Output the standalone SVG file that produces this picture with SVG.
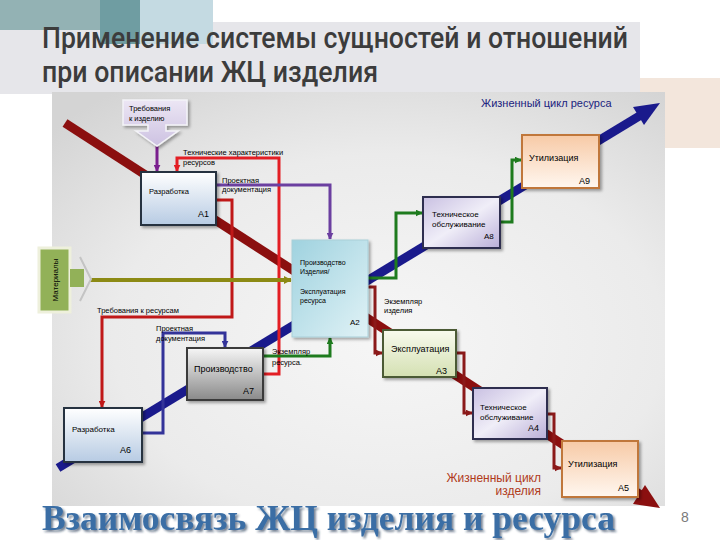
<svg xmlns="http://www.w3.org/2000/svg" width="720" height="540" viewBox="0 0 720 540">
<defs>
<style>
.t{font-family:"Liberation Sans",Arial,sans-serif;fill:#000}
.s7{font-size:7px}.s75{font-size:7.5px}.s8{font-size:8px}.s9{font-size:9px}
.box{stroke-width:2}
.c{fill:none;stroke-width:3}
.ttl{font-family:Roboto,"Liberation Sans",sans-serif;font-size:30px;font-weight:500;fill:#3c3c3c}
</style>
<radialGradient id="gPanel" cx="0.55" cy="0.6" r="0.75">
<stop offset="0" stop-color="#f6f6f6"/><stop offset="0.6" stop-color="#ebebeb"/><stop offset="1" stop-color="#d4d4d4"/>
</radialGradient>
<linearGradient id="gBlue" x1="0" y1="0" x2="0" y2="1"><stop offset="0" stop-color="#ffffff"/><stop offset="1" stop-color="#b7cbe3"/></linearGradient>
<linearGradient id="gCyan" x1="0" y1="0" x2="1" y2="1"><stop offset="0" stop-color="#9fd2df"/><stop offset="1" stop-color="#e0f2f6"/></linearGradient>
<linearGradient id="gLav" x1="0" y1="0" x2="1" y2="1"><stop offset="0" stop-color="#c9c0e2"/><stop offset="0.5" stop-color="#f0eef8"/><stop offset="1" stop-color="#b9aed8"/></linearGradient>
<linearGradient id="gPeach" x1="0" y1="0" x2="0" y2="1"><stop offset="0" stop-color="#f7caa6"/><stop offset="1" stop-color="#fff7f0"/></linearGradient>
<linearGradient id="gGreen" x1="0" y1="0" x2="0" y2="1"><stop offset="0" stop-color="#f8faee"/><stop offset="1" stop-color="#d4e0b2"/></linearGradient>
<linearGradient id="gGray" x1="0" y1="0" x2="0" y2="1"><stop offset="0" stop-color="#f6f6f6"/><stop offset="1" stop-color="#8a8a8a"/></linearGradient>
<linearGradient id="gCall" x1="0" y1="0" x2="0" y2="1"><stop offset="0" stop-color="#ece6f4"/><stop offset="1" stop-color="#cdc2e2"/></linearGradient>
<filter id="sh" x="-10%" y="-10%" width="130%" height="130%"><feDropShadow dx="2" dy="2" stdDeviation="1.5" flood-color="#000" flood-opacity="0.35"/></filter>
<filter id="tsh" x="-5%" y="-20%" width="110%" height="140%"><feDropShadow dx="2" dy="2" stdDeviation="0.8" flood-color="#1d3550" flood-opacity="0.6"/></filter>
<marker id="mPur" viewBox="0 0 10 10" refX="9" refY="5" markerWidth="7" markerHeight="7" markerUnits="userSpaceOnUse" orient="auto"><path d="M0,0L10,5L0,10z" fill="#7a1f8e"/></marker>
<marker id="mViol" viewBox="0 0 10 10" refX="9" refY="5" markerWidth="7" markerHeight="7" markerUnits="userSpaceOnUse" orient="auto"><path d="M0,0L10,5L0,10z" fill="#6b3fa0"/></marker>
<marker id="mRed" viewBox="0 0 10 10" refX="9" refY="5" markerWidth="7" markerHeight="7" markerUnits="userSpaceOnUse" orient="auto"><path d="M0,0L10,5L0,10z" fill="#e31e24"/></marker>
<marker id="mDRed" viewBox="0 0 10 10" refX="9" refY="5" markerWidth="7" markerHeight="7" markerUnits="userSpaceOnUse" orient="auto"><path d="M0,0L10,5L0,10z" fill="#c01818"/></marker>
<marker id="mMar" viewBox="0 0 10 10" refX="9" refY="5" markerWidth="7" markerHeight="7" markerUnits="userSpaceOnUse" orient="auto"><path d="M0,0L10,5L0,10z" fill="#8b1a1a"/></marker>
<marker id="mBlu" viewBox="0 0 10 10" refX="9" refY="5" markerWidth="7" markerHeight="7" markerUnits="userSpaceOnUse" orient="auto"><path d="M0,0L10,5L0,10z" fill="#333399"/></marker>
<marker id="mGrn" viewBox="0 0 10 10" refX="9" refY="5" markerWidth="7" markerHeight="7" markerUnits="userSpaceOnUse" orient="auto"><path d="M0,0L10,5L0,10z" fill="#1e7b1e"/></marker>
<marker id="mOli" viewBox="0 0 10 10" refX="9" refY="5" markerWidth="8" markerHeight="8" markerUnits="userSpaceOnUse" orient="auto"><path d="M0,0L10,5L0,10z" fill="#8c8a14"/></marker>
</defs>

<!-- background -->
<rect width="720" height="540" fill="#ffffff"/>
<g id="decor">
<rect x="0" y="22" width="640" height="72" fill="#e6e6ea"/>
<rect x="640" y="78" width="80" height="70" fill="#f3e6dc"/>
<rect x="0" y="0" width="100" height="30" fill="#93b2b4"/>
<rect x="100" y="0" width="40" height="44" fill="#6f9da2"/>
<rect x="140" y="0" width="73" height="44" fill="#c4dae2"/>
<rect x="52" y="92" width="613" height="414" fill="url(#gPanel)"/>
</g>

<g id="title">
<text class="ttl" x="42" y="48" textLength="586" lengthAdjust="spacingAndGlyphs">Применение системы сущностей и отношений</text>
<text class="ttl" x="42" y="82" textLength="336" lengthAdjust="spacingAndGlyphs">при описании ЖЦ изделия</text>
</g>

<!-- connectors -->
<g id="connectors">
<line x1="65" y1="123" x2="641" y2="495" stroke="#8b0f0f" stroke-width="9"/>
<polygon points="660,508 633,504 645,485" fill="#8b0f0f"/>
<line x1="58" y1="468" x2="641" y2="115" stroke="#1a1a8c" stroke-width="9"/>
<polygon points="660,103 644,125 633,107" fill="#1a1a8c"/>

<path class="c" d="M157,145V171" stroke="#7a1f8e" marker-end="url(#mPur)"/>
<path class="c" d="M263,374H279V158H177V171" stroke="#e31e24" marker-end="url(#mRed)"/>
<path class="c" d="M216,185H330V239" stroke="#6b3fa0" marker-end="url(#mViol)"/>
<path class="c" d="M216,200H232V317H102V407" stroke="#c01818" marker-end="url(#mDRed)"/>
<path d="M90,280H291" fill="none" stroke="#8c8a14" stroke-width="4" marker-end="url(#mOli)"/>
<path class="c" d="M142,433H163V333H225V347" stroke="#333399" marker-end="url(#mBlu)"/>
<path class="c" d="M263,356H330V338" stroke="#1e7b1e" marker-end="url(#mGrn)"/>
<path class="c" d="M368,278H396V213H422" stroke="#1e7b1e" marker-end="url(#mGrn)"/>
<path class="c" d="M500,222H512V160H521" stroke="#1e7b1e" marker-end="url(#mGrn)"/>
<path class="c" d="M368,287H375V353H382" stroke="#8b1a1a" marker-end="url(#mMar)"/>
<path class="c" d="M456,353H464V413H472" stroke="#8b1a1a" marker-end="url(#mMar)"/>
<path class="c" d="M547,414H554V468H561" stroke="#8b1a1a" marker-end="url(#mMar)"/>
</g>

<!-- connector labels -->
<g id="labels">
<text class="t s75" x="183" y="155">Технические характеристики</text>
<text class="t s75" x="183" y="165">ресурсов</text>
<text class="t s75" x="222" y="183">Проектная</text>
<text class="t s75" x="222" y="192">документация</text>
<text class="t s75" x="97" y="313">Требования к ресурсам</text>
<text class="t s75" x="156" y="331">Проектная</text>
<text class="t s75" x="156" y="341">документация</text>
<text class="t s75" x="272" y="354">Экземпляр</text>
<text class="t s75" x="272" y="365">ресурса.</text>
<text class="t s75" x="384" y="304">Экземпляр</text>
<text class="t s75" x="384" y="313">изделия</text>
<text x="481" y="107" font-family="'Liberation Sans',Arial,sans-serif" font-size="11" fill="#1a237e">Жизненный цикл ресурса</text>
<text x="541" y="482" font-family="'Liberation Sans',Arial,sans-serif" font-size="12" fill="#b03a1a" text-anchor="end">Жизненный цикл</text>
<text x="541" y="495" font-family="'Liberation Sans',Arial,sans-serif" font-size="12" fill="#b03a1a" text-anchor="end">изделия</text>
</g>

<g id="req_item">
<path d="M123,100H187V125H166V131H178L157,146L136,131H148V125H123Z" fill="url(#gCall)" stroke="#f4f4f8" stroke-width="1.5" filter="url(#sh)"/>
<text class="t s75" x="129" y="111">Требования</text>
<text class="t s75" x="129" y="121">к изделию</text>
</g>

<g id="materials">
<rect x="39" y="248" width="31" height="64" fill="#92b158" stroke="#eef0dc" stroke-width="3"/>
<rect x="70" y="269" width="14" height="18" fill="#92b158"/>
<path d="M80,257L91,279L80,301" fill="none" stroke="#c4c4c4" stroke-width="2"/>
<text class="t s8" transform="translate(58,280) rotate(-90)" text-anchor="middle">Материалы</text>
</g>

<g id="A1">
<rect class="box" x="141" y="172" width="75" height="53" fill="url(#gBlue)" stroke="#263040" filter="url(#sh)"/>
<text class="t s75" x="149" y="194">Разработка</text>
<text class="t s9" x="198" y="217">А1</text>
</g>

<g id="A2">
<rect x="292" y="240" width="76" height="97" fill="url(#gCyan)" stroke="#a9cfd8" stroke-width="1" filter="url(#sh)"/>
<text class="t s7" x="300" y="265">Производство</text>
<text class="t s7" x="300" y="274">Изделия/</text>
<text class="t s7" x="300" y="294">Эксплуатация</text>
<text class="t s7" x="300" y="303">ресурса</text>
<text class="t s8" x="350" y="325">А2</text>
</g>

<g id="A3">
<rect class="box" x="383" y="330" width="73" height="47" fill="url(#gGreen)" stroke="#4b5a36" filter="url(#sh)"/>
<text class="t s9" x="391" y="352">Эксплуатация</text>
<text class="t s9" x="436" y="374">А3</text>
</g>

<g id="A4">
<rect class="box" x="473" y="388" width="74" height="51" fill="url(#gLav)" stroke="#2f2f4f" filter="url(#sh)"/>
<text class="t s8" x="480" y="410">Техническое</text>
<text class="t s8" x="480" y="420">обслуживание</text>
<text class="t s9" x="528" y="431">А4</text>
</g>

<g id="A5">
<rect class="box" x="562" y="441" width="76" height="56" fill="url(#gPeach)" stroke="#c0773a" filter="url(#sh)"/>
<text class="t s9" x="568" y="467">Утилизация</text>
<text class="t s9" x="618" y="491">А5</text>
</g>

<g id="A6">
<rect class="box" x="64" y="408" width="78" height="54" fill="url(#gBlue)" stroke="#263040" filter="url(#sh)"/>
<text class="t s8" x="72" y="432">Разработка</text>
<text class="t s9" x="120" y="453">А6</text>
</g>

<g id="A7">
<rect class="box" x="187" y="348" width="76" height="52" fill="url(#gGray)" stroke="#3a3a3a" filter="url(#sh)"/>
<text class="t s9" x="194" y="372">Производство</text>
<text class="t s9" x="243" y="394">А7</text>
</g>

<g id="A8">
<rect class="box" x="423" y="197" width="77" height="51" fill="url(#gLav)" stroke="#2f2f4f" filter="url(#sh)"/>
<text class="t s8" x="432" y="217">Техническое</text>
<text class="t s8" x="432" y="227">обслуживание</text>
<text class="t s8" x="484" y="239">А8</text>
</g>

<g id="A9">
<rect class="box" x="522" y="135" width="77" height="53" fill="url(#gPeach)" stroke="#c0773a" filter="url(#sh)"/>
<text class="t s9" x="529" y="161">Утилизация</text>
<text class="t s9" x="579" y="184">А9</text>
</g>

<g id="footer">
<text x="42" y="530" font-family="'Liberation Serif','Times New Roman',serif" font-weight="bold" font-size="35" fill="#3a6ea5" textLength="573" lengthAdjust="spacingAndGlyphs" filter="url(#tsh)">Взаимосвязь ЖЦ изделия и ресурса</text>
<text x="681" y="522" font-family="'Liberation Sans',Arial,sans-serif" font-size="14" fill="#7a7a7a">8</text>
</g>
</svg>
